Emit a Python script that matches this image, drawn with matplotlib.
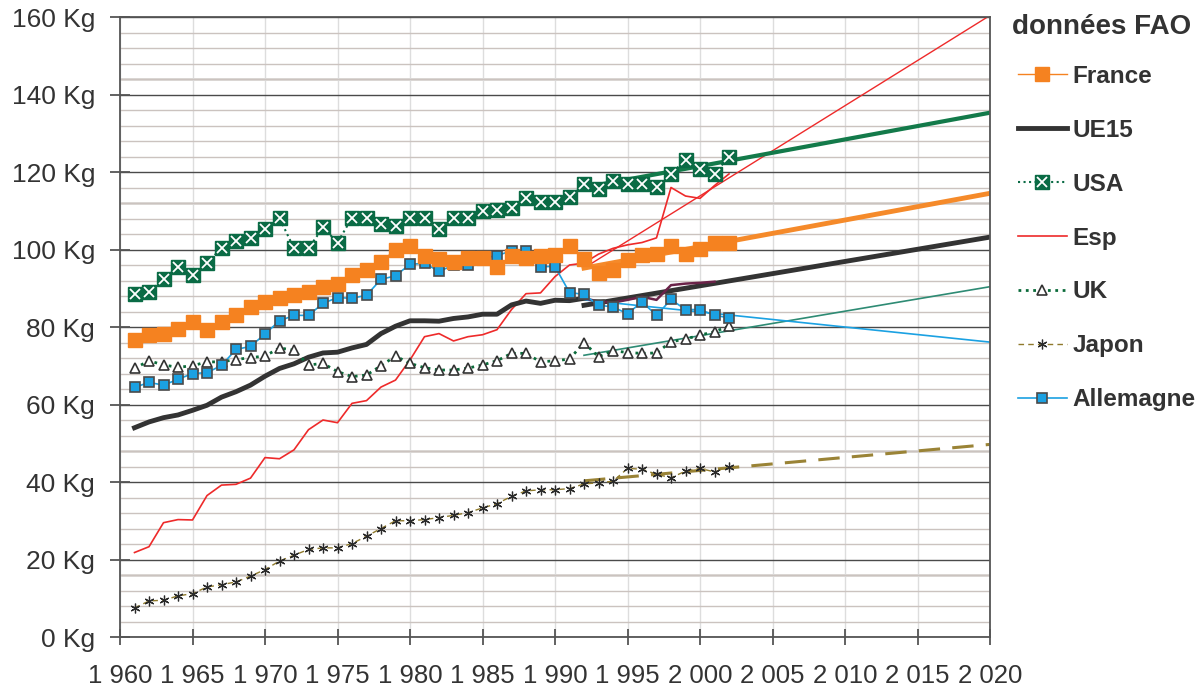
import matplotlib
matplotlib.use("Agg")
import matplotlib.pyplot as plt
import numpy as np
from matplotlib.legend_handler import HandlerTuple

plt.rcParams["font.family"] = ["Liberation Sans", "DejaVu Sans"]

years = np.arange(1961, 2003)

france = [76.7, 78.0, 78.3, 79.6, 81.2, 79.2, 81.4, 83.2, 85.1, 86.4,
          87.6, 88.3, 89.1, 90.2, 91.2, 93.5, 94.6, 96.9, 99.9, 100.8,
          98.4, 97.5, 96.8, 97.9, 97.8, 95.6, 98.2, 97.8, 98.2, 98.6,
          100.8, 97.6, 93.9, 94.6, 97.3, 98.6, 98.9, 100.8, 98.8, 100.1,
          101.7, 101.7]

ue15 = [54.0, 55.5, 56.6, 57.3, 58.5, 59.8, 61.9, 63.3, 65.0, 67.3,
        69.3, 70.5, 72.2, 73.3, 73.5, 74.6, 75.5, 78.3, 80.2, 81.6,
        81.6, 81.5, 82.2, 82.6, 83.3, 83.3, 85.7, 86.7, 86.1, 86.9,
        86.8, 87.4]
ue15_years = years[:len(ue15)]

# fin de la serie UE15 (trait violet)
ue15_late_years = np.arange(1992, 2002)
ue15_late = [87.4, 86.6, 86.3, 87.0, 87.8, 87.0, 90.8, 91.2, 91.4, 91.7]

usa = [88.5, 89.1, 92.4, 95.5, 93.4, 96.6, 100.3, 102.3, 102.9, 105.4,
       108.1, 100.3, 100.3, 105.7, 101.8, 108.2, 108.2, 106.5, 106.1, 108.1,
       108.1, 105.4, 108.1, 108.2, 110.0, 110.1, 110.6, 113.4, 112.2, 112.2,
       113.6, 116.8, 115.5, 117.8, 116.8, 116.8, 116.1, 119.5, 123.1, 120.9,
       119.5, 124.0]

esp = [21.8, 23.3, 29.5, 30.3, 30.2, 36.5, 39.2, 39.4, 41.0, 46.3,
       46.0, 48.3, 53.5, 56.0, 55.3, 60.3, 61.0, 64.5, 66.3, 71.5,
       77.5, 78.3, 76.4, 77.5, 78.0, 79.3, 84.5, 88.6, 88.8, 93.0,
       96.0, 96.5, 98.8, 100.3, 101.2, 101.8, 103.0, 116.0, 113.8, 113.2,
       116.5, 119.5]

uk = [69.3, 71.3, 70.2, 69.6, 70.0, 71.0, 71.0, 71.6, 72.1, 72.5,
      74.6, 74.0, 70.2, 70.6, 68.5, 67.2, 67.6, 70.0, 72.5, 70.6,
      69.5, 68.9, 68.9, 69.4, 70.2, 71.3, 73.2, 73.2, 71.0, 71.3,
      71.7, 76.0, 72.3, 73.9, 73.4, 73.2, 73.3, 76.2, 76.9, 77.9,
      78.8, 80.2]

japon = [7.5, 9.3, 9.5, 10.6, 11.2, 12.9, 13.5, 14.2, 15.7, 17.4,
         19.6, 21.1, 22.6, 23.0, 23.0, 24.1, 26.0, 28.0, 30.0, 30.0,
         30.3, 30.8, 31.4, 32.1, 33.3, 34.4, 36.3, 37.7, 38.0, 38.0,
         38.3, 39.5, 39.8, 40.2, 43.5, 43.3, 42.0, 41.1, 42.8, 43.5,
         42.6, 43.9]

allemagne = [64.4, 65.7, 65.0, 66.5, 68.0, 68.2, 70.1, 74.2, 75.0, 78.2,
             81.6, 83.0, 83.0, 86.1, 87.6, 87.4, 88.2, 92.3, 93.2, 96.2,
             96.4, 94.4, 95.9, 95.9, 97.8, 98.4, 99.7, 99.7, 95.6, 95.6,
             88.9, 88.4, 85.6, 85.2, 83.4, 86.5, 83.0, 87.1, 84.5, 84.5,
             83.0, 82.4]

# tendances 1992 -> 2020
trend_years = [1992, 2020]
france_trend = [95.2, 114.5]
ue15_trend = [85.6, 103.2]
usa_trend = [116.0, 135.3]
esp_trend = [95.2, 160.4]
uk_trend = [72.7, 90.4]
japon_trend = [40.3, 49.7]
allemagne_trend = [87.0, 76.1]

c_france = "#f58220"
c_ue15 = "#333333"
c_usa = "#0a6b45"
c_esp = "#ee2a2a"
c_uk = "#0b6b3a"
c_japon = "#8f7a2c"
c_all = "#1ba1e2"
c_text = "#333333"

fig = plt.figure(figsize=(12.03, 6.91), dpi=100)
ax = fig.add_axes([120 / 1203, 1 - 637 / 691, 870 / 1203, 620 / 691])
ax.set_xlim(1960, 2020)
ax.set_ylim(0, 160)

# grille
ax.set_axisbelow(True)
ax.set_yticks(np.arange(0, 161, 20))
ax.set_yticks(np.arange(4, 160, 4), minor=True)
ax.set_xticks(np.arange(1960, 2021, 5))
ax.grid(axis="y", which="major", color="#4a4a4a", lw=1.0)
ax.grid(axis="y", which="minor", color="#cbc3bf", lw=1.0)
ax.grid(axis="x", which="major", color="#dddddd", lw=1.0)
for v in np.arange(16, 160, 32):
    if v % 20:
        ax.axhline(v, color="#dbd7d5", lw=2.0, zorder=0.5)

# tendances
ax.plot(trend_years, esp_trend, color=c_esp, lw=1.0, zorder=2)
ax.plot(trend_years, uk_trend, color="#2e8b74", lw=1.2, zorder=2)
ax.plot(trend_years, allemagne_trend, color=c_all, lw=1.2, zorder=2)
ax.plot(trend_years, japon_trend, color="#9a8336", lw=2.2,
        dashes=(7, 4), zorder=2)
ax.plot(trend_years, usa_trend, color="#137a4a", lw=3.0, zorder=2)
ax.plot(trend_years, france_trend, color="#f58a2a", lw=3.5, zorder=2)
ax.plot(trend_years, ue15_trend, color=c_ue15, lw=3.5, zorder=2)

# series
l_esp, = ax.plot(years, esp, color=c_esp, lw=1.2, zorder=3, label="Esp")
l_ue15, = ax.plot(ue15_years, ue15, color=c_ue15, lw=3.5, zorder=3,
                  label="UE15")
ax.plot(ue15_late_years, ue15_late, color="#6a2248", lw=1.8, zorder=3)
l_jap, = ax.plot(years, japon, color=c_japon, lw=1.0, dashes=(4, 3),
                 marker=(6, 2, 0), ms=7, mec="#2a2a2a", mew=0.9, zorder=4,
                 label="Japon")
l_uk, = ax.plot(years, uk, color=c_uk, lw=2.0, ls=":",
                marker="^", ms=7.5, mfc="white", mec="#333333", mew=1.2,
                zorder=4, label="UK")
l_all, = ax.plot(years, allemagne, color=c_all, lw=1.2, marker="s",
                 ms=7, mfc=c_all, mec="#4a4a4a", mew=1.2, zorder=5,
                 label="Allemagne")
l_fr, = ax.plot(years, france, color=c_france, lw=1.0, marker="s",
                ms=9.5, mfc=c_france, mec=c_france, zorder=5,
                label="France")
l_usa, = ax.plot(years, usa, color=c_usa, lw=1.5, ls=":", marker="s",
                 ms=9.5, mfc=c_usa, mec=c_usa, zorder=5)
l_usa_x, = ax.plot(years, usa, ls="none", marker="x", ms=7,
                   mec="white", mew=1.3, zorder=6)

# axes
for side in ["left", "bottom", "right", "top"]:
    ax.spines[side].set_color("#555555")
    ax.spines[side].set_linewidth(1.3)
ax.tick_params(axis="y", which="major", direction="inout", length=14,
               width=1.3, color="#555555", pad=11, labelsize=19,
               labelcolor=c_text)
ax.tick_params(axis="x", which="major", direction="inout", length=11,
               width=1.3, color="#555555", pad=14, labelsize=18.5,
               labelcolor=c_text)
ax.tick_params(which="minor", length=0)
ax.set_yticklabels([f"{v} Kg" for v in range(0, 161, 20)])
ax.set_xticklabels([f"{y // 1000} {y % 1000:03d}"
                    for y in range(1960, 2021, 5)])

handles = [l_fr, l_ue15, (l_usa, l_usa_x), l_esp, l_uk, l_jap, l_all]
labels = ["France", "UE15", "USA", "Esp", "UK", "Japon", "Allemagne"]
leg = fig.legend(handles, labels, loc="upper left",
                 bbox_to_anchor=(1018 / 1203, 1 - 65 / 691),
                 frameon=False, borderpad=0, borderaxespad=0,
                 numpoints=1, handlelength=2.0, handletextpad=0.25,
                 labelspacing=1.27,
                 handler_map={tuple: HandlerTuple(ndivide=1)},
                 prop={"weight": "bold", "size": 17.5})
for t in leg.get_texts():
    t.set_color(c_text)
fig.text(1012 / 1203, 1 - 27 / 691, "données FAO", ha="left", va="center",
         fontsize=20, fontweight="bold", color=c_text)

fig.savefig("out.png", dpi=100)
